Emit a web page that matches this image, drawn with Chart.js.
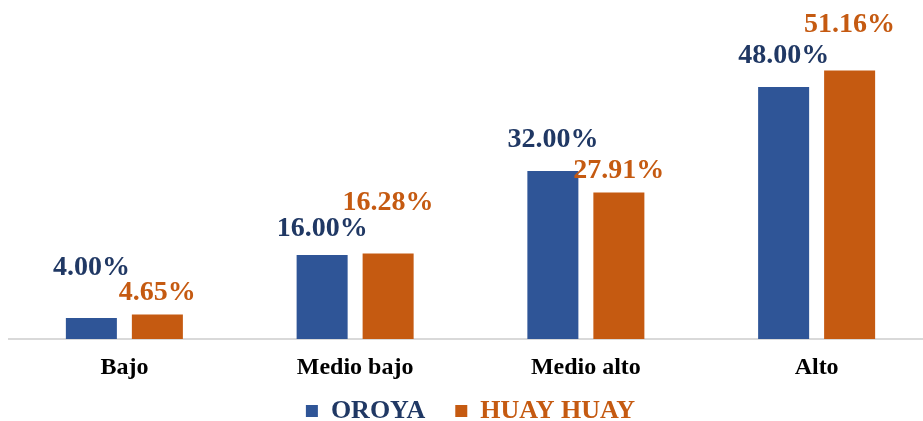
<!DOCTYPE html>
<html>
<head>
<meta charset="utf-8">
<script src="https://cdn.jsdelivr.net/npm/chart.js@4.4.0/dist/chart.umd.min.js"></script>
<style>
  html, body { margin: 0; padding: 0; background: #fff; overflow: hidden; }
  #wrap { width: 932px; height: 421px; }
</style>
</head>
<body>
<div id="wrap"><canvas id="graphOutputCanvas"></canvas></div>
<script>
// data
var categories = ["Bajo", "Medio bajo", "Medio alto", "Alto"];
var oroyaValues = [4.00, 16.00, 32.00, 48.00];
var huayValues = [4.65, 16.28, 27.91, 51.16];
var seriesNames = ["OROYA", "HUAY HUAY"];

// how far each value label sits above its bar (px), as in the original
var labelGaps = [
    [43, 19, 24, 24],
    [15, 44, 14, 38]
];

var barColors = ["#2F5597", "#C55A11"];
var labelColors = ["#203864", "#C55A11"];
var serif = "'Liberation Serif', 'Times New Roman', serif";

//value labels above bars
var valueLabels = {
    id: "valueLabels",
    afterDatasetsDraw(chart){
        let ctx = chart.ctx;
        ctx.save();
        ctx.font = "bold 28px " + serif;
        ctx.textAlign = "center";
        ctx.textBaseline = "alphabetic";
        chart.data.datasets.forEach(function(ds, d){
            let meta = chart.getDatasetMeta(d);
            ctx.fillStyle = labelColors[d];
            meta.data.forEach(function(bar, i){
                ctx.fillText(ds.data[i].toFixed(2) + "%", bar.x, bar.y - labelGaps[d][i]);
            });
        });
        ctx.restore();
    }
};

var currentChart = new Chart(document.getElementById("graphOutputCanvas"), {
    type: "bar",
    data: {
        labels: categories,
        datasets: [{
            label: seriesNames[0],
            backgroundColor: barColors[0],
            data: oroyaValues
        }, {
            label: seriesNames[1],
            backgroundColor: barColors[1],
            data: huayValues
        }]
    },
    options: {
        responsive: true,
        maintainAspectRatio: false,
        animation: false,
        categoryPercentage: 0.572,
        barPercentage: 0.773,
        layout: { padding: { top: 24, left: 9, right: 0, bottom: 0 } },
        plugins: {
            tooltip: { enabled: false },
            legend: {
                position: "bottom",
                maxHeight: 40,
                labels: {
                    boxWidth: 12,
                    boxHeight: 12,
                    padding: 17,
                    font: { family: serif, size: 26, weight: "bold" },
                    generateLabels(chart){
                        let n = chart.data.datasets.length;
                        return chart.data.datasets.map(function(ds, i){
                            return {
                                // trailing spaces widen the gap between the two items
                                text: i < n - 1 ? ds.label + "  " : ds.label,
                                fillStyle: barColors[i],
                                strokeStyle: barColors[i],
                                lineWidth: 0,
                                fontColor: labelColors[i],
                                datasetIndex: i
                            };
                        });
                    }
                }
            }
        },
        scales: {
            x: {
                grid: { display: false },
                border: { display: true, color: "#d9d9d9", width: 2 },
                afterFit(scale){
                    scale.height = 42;
                },
                ticks: {
                    color: "#000",
                    padding: 6,
                    font: { family: serif, size: 24, weight: "bold" }
                }
            },
            y: {
                display: false,
                min: 0,
                max: 60
            }
        }
    },
    plugins: [valueLabels]
});
</script>
</body>
</html>
